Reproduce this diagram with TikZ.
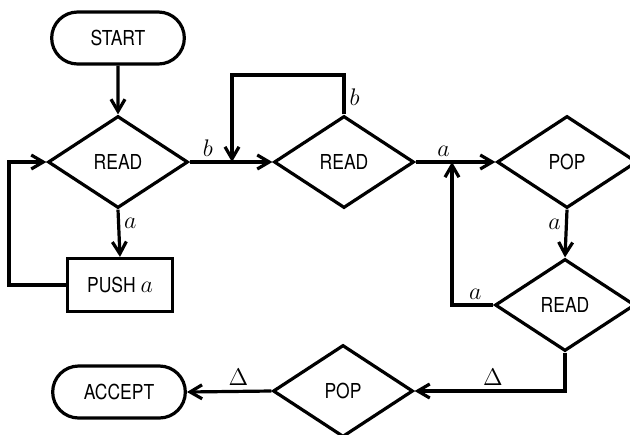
\documentclass[tikz,border=0pt]{standalone}
\usepackage{fontspec}
\setsansfont[FakeStretch=0.85]{TeX Gyre Heros}
\usetikzlibrary{shapes.geometric,shapes.misc,arrows.meta}

\begin{document}
\begin{tikzpicture}[x=0.5pt, y=-0.5pt, line width=1.6pt,
    font=\sffamily\fontsize{10.3}{12}\selectfont,
    test/.style={draw, diamond, inner sep=0pt, minimum width=70pt,
      minimum height=46pt},
    term/.style={draw, rounded rectangle, minimum width=73pt,
      minimum height=26pt},
    act/.style={draw, rectangle, minimum width=52.5pt, minimum height=26.5pt},
    arr/.style={-{Straight Barb[length=6pt,width=7pt]}},
    lbl/.style={inner sep=2pt, font=\fontsize{11.5}{13}\selectfont}]
  \useasboundingbox (0,0) rectangle (630,434);
  \def\rowA{162}
  % boxes
  \node[term] (start) at (118,38) {START};
  \node[test] (read1) at (118,\rowA) {READ};
  \node[act] (push) at (120,285) {PUSH \large$a$};
  \node[test] (read2) at (344,\rowA) {READ};
  \node[test] (pop1) at (567,\rowA) {POP};
  \node[test] (read3) at (565,305) {READ};
  \node[test] (pop2) at (343,391) {POP};
  \node[term] (accept) at (119,392) {ACCEPT};
  % turning points
  \coordinate (lft) at (9,0);
  \coordinate (loop2) at (232,75);
  \coordinate (jn) at (452,\rowA);
  % connectors
  \draw[arr] (start) -- (read1);
  \draw[arr] (read1.south) -- node[lbl, right, pos=0.3]{$a$} (push.north);
  \draw[arr] (push.west) -- (push.west -| lft) -- (read1.west -| lft)
    -- (read1.west);
  \draw[arr] (read1.east) -- node[lbl, above, pos=0.22]{$b$} (read2.west);
  \draw[arr] (read2.north) |- node[lbl, right, pos=0.22]{$b$} (loop2)
    -- (loop2 |- read2.west);
  \draw[arr] (read2.east) -- node[lbl, above, pos=0.35]{$a$} (pop1.west);
  \draw[arr] (pop1.south) -- node[lbl, left, pos=0.3]{$a$} (read3.north);
  \draw[arr] (read3.west) -| node[lbl, above, pos=0.22]{$a$} (jn);
  \draw[arr] (read3.south) |- node[lbl, above, pos=0.74]{$\Delta$} (pop2.east);
  \draw[arr] (pop2.west) -- node[lbl, above, pos=0.39]{$\Delta$} (accept.east);
\end{tikzpicture}
\end{document}
